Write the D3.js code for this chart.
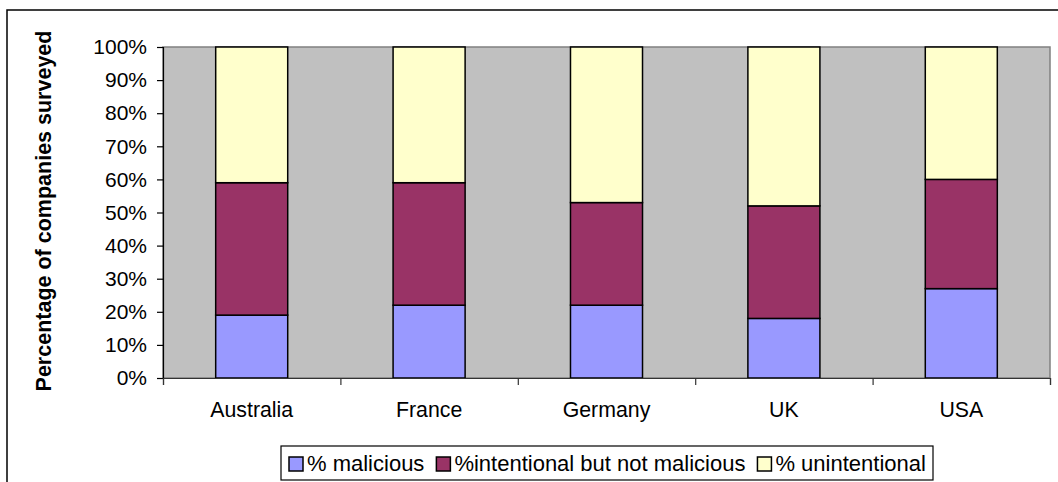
<!DOCTYPE html>
<html>
<head>
<meta charset="utf-8">
<script src="https://cdn.jsdelivr.net/npm/d3@7"></script>
<style>
  html, body { margin: 0; padding: 0; background: #ffffff; }
  svg { display: block; font-family: "Liberation Sans", Arial, sans-serif; }
</style>
</head>
<body>
<svg id="chart" width="1058" height="482"></svg>
<script>
// Source data: share of surveyed companies by incident type
const countries = ["Australia", "France", "Germany", "UK", "USA"];
const malicious = [19, 22, 22, 18, 27];
const intentionalNotMalicious = [40, 37, 31, 34, 33];
const unintentional = [41, 41, 47, 48, 40];
const seriesNames = ["% malicious", "%intentional but not malicious", "% unintentional"];
const seriesColors = ["#9999FF", "#993366", "#FFFFCC"];
const yTicks = [0, 10, 20, 30, 40, 50, 60, 70, 80, 90, 100];
const yTitle = "Percentage of companies surveyed";

const svg = d3.select("#chart");
const W = 1058, H = 482;

// Outer chart frame
svg.append("rect")
  .attr("x", 7).attr("y", 10)
  .attr("width", W + 10).attr("height", H + 10)
  .attr("fill", "#ffffff").attr("stroke", "#000000").attr("stroke-width", 1.5);

const plot = { left: 163, right: 1050, top: 47, bottom: 378 };

const x = d3.scaleBand()
  .domain(countries)
  .range([plot.left, plot.right])
  .paddingInner(0.594)
  .paddingOuter(0.297);

const xEdges = d3.scaleLinear().domain([0, countries.length]).range([plot.left, plot.right]);

const y = d3.scaleLinear().domain([0, 100]).range([plot.bottom, plot.top]);

// Plot background
svg.append("rect")
  .attr("x", plot.left).attr("y", plot.top)
  .attr("width", plot.right - plot.left).attr("height", plot.bottom - plot.top)
  .attr("fill", "#C0C0C0").attr("stroke", "#808080").attr("stroke-width", 1.5);

// Stack the three series
const rows = countries.map((c, i) => ({
  country: c,
  s0: malicious[i],
  s1: intentionalNotMalicious[i],
  s2: unintentional[i]
}));
const stacked = d3.stack().keys(["s0", "s1", "s2"])(rows);

svg.append("g").selectAll("g")
  .data(stacked)
  .join("g")
  .attr("fill", (d, i) => seriesColors[i])
  .selectAll("rect")
  .data(d => d)
  .join("rect")
  .attr("x", d => x(d.data.country))
  .attr("y", d => y(d[1]))
  .attr("width", x.bandwidth())
  .attr("height", d => y(d[0]) - y(d[1]))
  .attr("stroke", "#000000")
  .attr("stroke-width", 1.5);

// Y axis
const yAxis = svg.append("g")
  .attr("transform", `translate(${plot.left},0)`)
  .call(d3.axisLeft(y).tickValues(yTicks).tickSize(6).tickPadding(10).tickFormat(d => d + "%"));
yAxis.select(".domain").attr("stroke", "#000000").attr("stroke-width", 1.2);
yAxis.selectAll(".tick line").attr("stroke", "#000000").attr("stroke-width", 1.2);
yAxis.selectAll(".tick text")
  .attr("font-size", 21).attr("fill", "#000000")
  .attr("font-family", "Liberation Sans, Arial, sans-serif");

// X axis: category boundary ticks
const xAxis = svg.append("g")
  .attr("transform", `translate(0,${plot.bottom})`)
  .call(d3.axisBottom(xEdges).tickValues(d3.range(countries.length + 1)).tickSize(7).tickFormat(""));
xAxis.select(".domain").attr("stroke", "#333333").attr("stroke-width", 1.2);
xAxis.selectAll(".tick line").attr("stroke", "#333333").attr("stroke-width", 1.2);

// Category labels
svg.append("g").selectAll("text")
  .data(countries)
  .join("text")
  .attr("x", d => x(d) + x.bandwidth() / 2)
  .attr("y", 417)
  .attr("text-anchor", "middle")
  .attr("font-size", 21.3)
  .attr("fill", "#000000")
  .text(d => d);

// Y axis title
svg.append("text")
  .attr("transform", "translate(51,211) rotate(-90)")
  .attr("text-anchor", "middle")
  .attr("font-size", 21.5)
  .attr("font-weight", "bold")
  .attr("fill", "#000000")
  .text(yTitle);

// Legend
const legend = svg.append("g");
legend.append("rect")
  .attr("x", 281).attr("y", 446)
  .attr("width", 652).attr("height", 34)
  .attr("fill", "#ffffff").attr("stroke", "#000000").attr("stroke-width", 1.2);

let lx = 289;
seriesNames.forEach((name, i) => {
  legend.append("rect")
    .attr("x", lx).attr("y", 457)
    .attr("width", 14).attr("height", 14)
    .attr("fill", seriesColors[i])
    .attr("stroke", "#000000").attr("stroke-width", 1.5);
  const t = legend.append("text")
    .attr("x", lx + 18).attr("y", 471)
    .attr("font-size", 22)
    .attr("fill", "#000000")
    .text(name);
  lx += 18 + t.node().getComputedTextLength() + 12;
});
</script>
</body>
</html>
